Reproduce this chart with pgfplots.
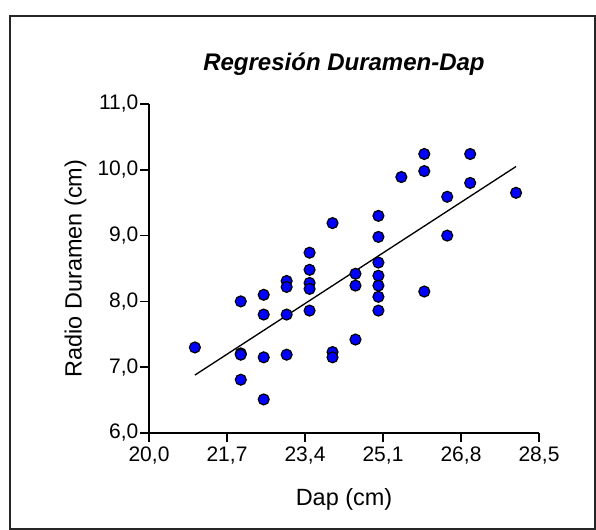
\documentclass[border=0pt]{standalone}
\usepackage{fontspec}
\setmainfont{Liberation Sans}
\usepackage{pgfplots}
\pgfplotsset{compat=1.18}
\begin{document}
\begin{tikzpicture}
\path[use as bounding box] (0,0) rectangle (447pt,397.5pt);
\clip (0,0) rectangle (447pt,397.5pt);
\draw[line width=1.3pt, black!85] (7.5pt,1pt) rectangle (446pt,385.5pt);
\begin{axis}[
  at={(111.75pt,72.75pt)}, anchor=south west,
  scale only axis, width=292.5pt, height=246.75pt,
  xmin=20, xmax=28.5, ymin=6, ymax=11,
  xtick={20,21.7,23.4,25.1,26.8,28.5},
  ytick={6,7,8,9,10,11},
  axis lines*=left,
  tick align=outside,
  major tick length=6.75pt,
  axis line style={line width=1.3pt},
  every tick/.style={black, line width=1.3pt},
  /pgf/number format/.cd, fixed, fixed zerofill, precision=1, use comma, assume math mode=true,
  /pgfplots/.cd,
  tick label style={font=\fontsize{15.75}{18}\selectfont},
  yticklabel style={inner sep=1pt},
  label style={font=\fontsize{17.6}{20}\selectfont},
  xlabel={Dap (cm)},
  ylabel={Radio Duramen (cm)},
  xlabel style={at={(axis description cs:0.5,-0.219)}, anchor=base},
  ylabel style={at={(axis description cs:-0.1726,0.5)}, anchor=base, rotate=0},
  title={Regresión Duramen-Dap},
  title style={at={(axis description cs:0.5,1.076)}, anchor=base, font=\bfseries\itshape\fontsize{18}{21}\selectfont},
  clip=false,
]
\addplot[black, line width=1pt] coordinates {(21,6.88) (28,10.05)};
\addplot[only marks, mark=*, mark size=4.1pt, mark options={fill={rgb,255:red,0;green,0;blue,255}, draw=black, line width=0.9pt}] coordinates {
(21,7.30)
(22,8.00) (22,7.21) (22,7.19) (22,6.81)
(22.5,8.10) (22.5,7.80) (22.5,7.15) (22.5,6.51)
(23,8.31) (23,8.22) (23,7.80) (23,7.19)
(23.5,8.74) (23.5,8.48) (23.5,8.28) (23.5,8.19) (23.5,7.86)
(24,9.19) (24,7.23) (24,7.15)
(24.5,8.42) (24.5,8.24) (24.5,7.42)
(25,9.30) (25,8.98) (25,8.59) (25,8.39) (25,8.24) (25,8.07) (25,7.86)
(25.5,9.89)
(26,10.24) (26,9.98) (26,8.15)
(26.5,9.59) (26.5,9.00)
(27,10.24) (27,9.80)
(28,9.65)
};
\end{axis}
\end{tikzpicture}
\end{document}
